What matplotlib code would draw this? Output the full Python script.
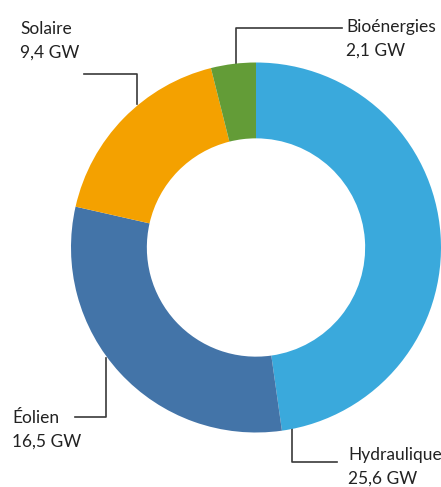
import matplotlib
matplotlib.use("Agg")
import matplotlib.pyplot as plt

labels = ["Hydraulique", "Éolien", "Solaire", "Bioénergies"]
values = [25.6, 16.5, 9.4, 2.1]
value_labels = ["25,6 GW", "16,5 GW", "9,4 GW", "2,1 GW"]
colors = ["#3AA9DC", "#4374A8", "#F4A100", "#639C37"]

W, H = 441, 487
fig = plt.figure(figsize=(W / 100, H / 100), dpi=100)
ax = fig.add_axes([0, 0, 1, 1])
ax.set_xlim(0, W)
ax.set_ylim(0, H)
ax.set_aspect("equal")
ax.axis("off")

def Y(y):
    return H - y

cx, cy, R = 256, Y(247.5), 185
ax.pie(values, colors=colors, startangle=90, counterclock=False,
       radius=R, center=(cx, cy), frame=True,
       wedgeprops=dict(width=R * 0.41, linewidth=0))
ax.set_xlim(0, W)
ax.set_ylim(0, H)
ax.axis("off")

lc = "#3a3a3a"
lw = 1.2
# Solaire leader
ax.plot([84, 137, 137], [Y(74), Y(74), Y(104)], color=lc, lw=lw, zorder=0)
# Bioénergies leader
ax.plot([342, 236, 236], [Y(28), Y(28), Y(66)], color=lc, lw=lw, zorder=0)
# Éolien leader
ax.plot([75, 106, 106], [Y(417), Y(417), Y(358)], color=lc, lw=lw, zorder=0)
# Hydraulique leader
ax.plot([292, 292, 337], [Y(426), Y(462), Y(462)], color=lc, lw=lw, zorder=0)

font = dict(family=["Lato", "DejaVu Sans"], fontsize=12.5, color="#222222")
pos = {
    "Solaire": (20, 34),
    "Bioénergies": (346, 32),
    "Éolien": (12, 423),
    "Hydraulique": (348, 460),
}
for lab, val in zip(labels, value_labels):
    x, yb = pos[lab]
    ax.text(x, Y(yb), lab, ha="left", va="baseline", **font)
    ax.text(x, Y(yb + 23.5), val, ha="left", va="baseline", **font)

fig.savefig("out.png", dpi=100)
